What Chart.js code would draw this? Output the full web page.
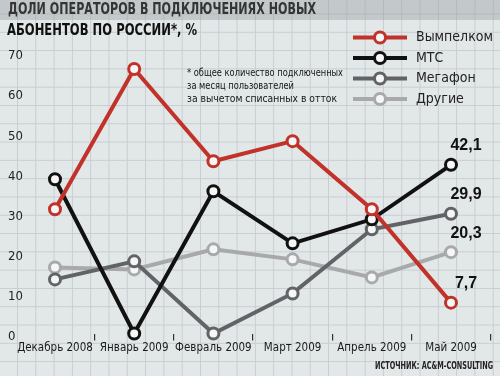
<!DOCTYPE html>
<html>
<head>
<meta charset="utf-8">
<script src="https://cdn.jsdelivr.net/npm/chart.js@4"></script>
<style>
  html, body { margin: 0; padding: 0; }
  body {
    width: 500px; height: 376px; overflow: hidden;
    background-color: #e2e7e8;
    background-image:
      linear-gradient(to right, #c9cdd3 1px, transparent 1px),
      linear-gradient(to bottom, #c9cdd3 1px, transparent 1px);
    background-size: 18.3px 18.3px;
    background-position: 17px 13.5px;
  }
  canvas { display: block; }
</style>
</head>
<body>
<canvas id="shares" width="500" height="376"></canvas>
<script>
(function () {
  const months = ["Декабрь 2008", "Январь 2009", "Февраль 2009", "Март 2009", "Апрель 2009", "Май 2009"];
  const beeline = [31, 66, 43, 48, 31, 7.7];
  const mts = [38.5, 0, 35.5, 22.5, 28.5, 42.1];
  const megafon = [13.5, 18, 0, 10, 26, 29.9];
  const others = [16.5, 16, 21, 18.5, 14, 20.3];
  const yStep = 10;

  const narrow = '"Liberation Sans Narrow", "DejaVu Sans Condensed", sans-serif';

  function series(label, values, color) {
    return {
      label: label,
      data: values,
      borderColor: color,
      borderWidth: 4,
      pointRadius: 5.5,
      pointHoverRadius: 5.5,
      pointBorderWidth: 3,
      pointBorderColor: color,
      pointBackgroundColor: "#f5f7f7",
      tension: 0,
      clip: false
    };
  }

  // text squeezed/stretched to a fixed width, like the original lettering
  function fitText(ctx, text, x, y, width, font, color, align) {
    ctx.save();
    ctx.font = font;
    ctx.fillStyle = color;
    ctx.textBaseline = "middle";
    ctx.textAlign = "left";
    const w = ctx.measureText(text).width;
    const k = width / w;
    const left = align === "right" ? x - width : x;
    ctx.translate(left, y);
    ctx.scale(k, 1);
    ctx.fillText(text, 0, 0);
    ctx.restore();
  }

  const decor = {
    id: "decor",
    beforeDraw(chart) {
      const ctx = chart.ctx;
      ctx.save();
      ctx.fillStyle = "rgba(140,146,150,0.36)";
      ctx.fillRect(0, 0, chart.width, 20);
      ctx.restore();
      fitText(ctx, "ДОЛИ ОПЕРАТОРОВ В ПОДКЛЮЧЕНИЯХ НОВЫХ", 8, 10.5, 308, "bold 15px " + narrow, "#353535");
      fitText(ctx, "АБОНЕНТОВ ПО РОССИИ*, %", 7, 31.5, 190, "bold 15px " + narrow, "#111111");

      fitText(ctx, "* общее количество подключенных", 187, 73.3, 156, "10px " + narrow, "#151515");
      fitText(ctx, "за месяц пользователей", 187, 86.3, 107, "10px " + narrow, "#151515");
      fitText(ctx, "за вычетом списанных в отток", 187, 99.3, 150, "10px " + narrow, "#151515");

      fitText(ctx, "ИСТОЧНИК: AC&M-CONSULTING", 493, 366, 118, "bold 10px " + narrow, "#222222", "right");
    },
    afterDatasetsDraw(chart) {
      const ctx = chart.ctx;
      // legend
      chart.data.datasets.forEach((ds, i) => {
        const y = 37.5 + i * 20.5;
        ctx.save();
        ctx.strokeStyle = ds.borderColor;
        ctx.lineWidth = 4;
        ctx.beginPath();
        ctx.moveTo(353, y);
        ctx.lineTo(407, y);
        ctx.stroke();
        ctx.beginPath();
        ctx.arc(380, y, 5.5, 0, Math.PI * 2);
        ctx.fillStyle = "#f5f7f7";
        ctx.fill();
        ctx.lineWidth = 3;
        ctx.stroke();
        ctx.font = "14px " + narrow;
        ctx.fillStyle = "#222222";
        ctx.textBaseline = "middle";
        ctx.fillText(ds.label, 416, y);
        ctx.restore();
      });
      // last values
      chart.data.datasets.forEach((ds, i) => {
        const meta = chart.getDatasetMeta(i);
        const last = meta.data[meta.data.length - 1];
        const v = ds.data[ds.data.length - 1];
        ctx.save();
        ctx.font = "bold 16px 'Liberation Sans', Arial, sans-serif";
        ctx.fillStyle = "#111111";
        ctx.textAlign = "center";
        ctx.textBaseline = "middle";
        ctx.fillText(String(v).replace(".", ","), last.x + 15, last.y - 19);
        ctx.restore();
      });
    }
  };

  new Chart(document.getElementById("shares"), {
    type: "line",
    data: {
      labels: months,
      datasets: [
        series("Вымпелком", beeline, "#c1322a"),
        series("МТС", mts, "#111111"),
        series("Мегафон", megafon, "#616367"),
        series("Другие", others, "#a7a9ab")
      ]
    },
    options: {
      responsive: false,
      devicePixelRatio: 1,
      animation: false,
      layout: { padding: { top: 53, left: 15.4, right: 9.4, bottom: 0 } },
      plugins: {
        legend: { display: false },
        title: { display: false },
        tooltip: { enabled: false }
      },
      scales: {
        x: {
          offset: true,
          border: { display: false },
          grid: {
            offset: true,
            drawOnChartArea: false,
            drawTicks: true,
            tickLength: 7,
            lineWidth: 1.2,
            color: (c) => (c.index === 0 ? "transparent" : "#333333")
          },
          ticks: {
            padding: 1,
            color: "#1a1a1a",
            font: { family: narrow, size: 11.5 },
            maxRotation: 0,
            autoSkip: false
          },
          afterFit: (s) => { s.height = 42.5; }
        },
        y: {
          min: 0,
          max: 70,
          border: { display: false },
          grid: { display: false, drawTicks: false },
          ticks: {
            stepSize: yStep,
            mirror: true,
            crossAlign: "near",
            padding: -7.4,
            labelOffset: 3,
            color: "#222222",
            font: { family: narrow, size: 13 }
          },
          afterFit: (s) => { s.width = 0; }
        }
      }
    },
    plugins: [decor]
  });
})();
</script>
</body>
</html>
